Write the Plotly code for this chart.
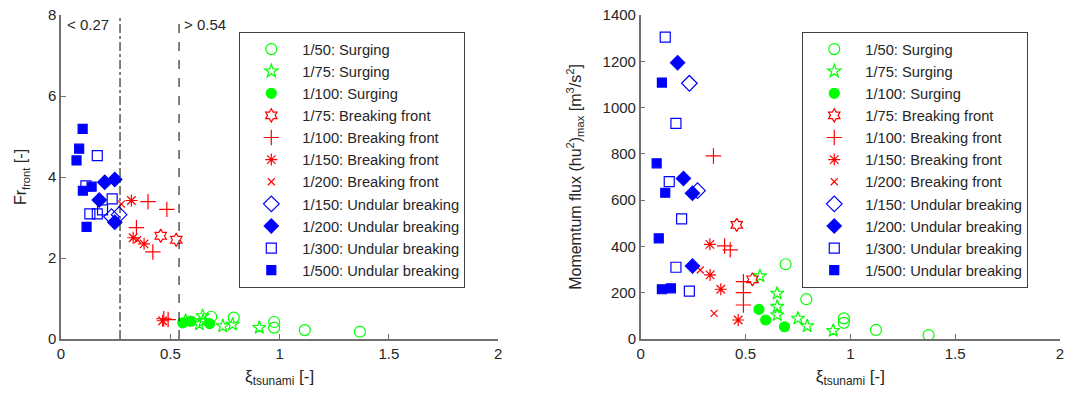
import plotly.graph_objects as go

# ---------------- data ----------------
# Left panel: Fr_front vs xi_tsunami
L_s50_x = [0.687, 0.79, 0.975, 0.975, 1.115, 1.367]
L_s50_y = [0.55, 0.53, 0.42, 0.28, 0.22, 0.18]
L_s75_x = [0.57, 0.648, 0.633, 0.65, 0.74, 0.785, 0.907]
L_s75_y = [0.45, 0.57, 0.37, 0.45, 0.32, 0.36, 0.28]
L_s100_x = [0.557, 0.595, 0.68]
L_s100_y = [0.40, 0.44, 0.38]
L_b75_x = [0.456, 0.527]
L_b75_y = [2.55, 2.45]
L_b100_x = [0.345, 0.398, 0.42, 0.484, 0.47, 0.49]
L_b100_y = [2.75, 3.39, 2.15, 3.2, 0.5, 0.48]
L_b150_x = [0.322, 0.33, 0.38, 0.465]
L_b150_y = [3.42, 2.5, 2.35, 0.45]
L_b200_x = [0.276, 0.35]
L_b200_y = [3.33, 2.45]
L_u150_x = [0.231, 0.266]
L_u150_y = [3.02, 3.07]
L_u200_x = [0.246, 0.20, 0.175, 0.246]
L_u200_y = [3.94, 3.87, 3.43, 2.88]
L_u300_x = [0.166, 0.114, 0.234, 0.132, 0.166, 0.19]
L_u300_y = [4.53, 3.78, 3.46, 3.09, 3.09, 3.19]
L_u500_x = [0.099, 0.083, 0.071, 0.10, 0.14, 0.117]
L_u500_y = [5.19, 4.70, 4.41, 3.66, 3.76, 2.77]

# Right panel: momentum flux vs xi_tsunami
R_s50_x = [0.691, 0.79, 0.969, 0.969, 1.122, 1.373]
R_s50_y = [323, 172, 89, 70, 39, 17]
R_s75_x = [0.569, 0.651, 0.651, 0.651, 0.75, 0.794, 0.918]
R_s75_y = [272, 197, 140, 104, 89, 56, 36]
R_s100_x = [0.564, 0.596, 0.686]
R_s100_y = [128, 82, 53]
R_b75_x = [0.458, 0.533]
R_b75_y = [493, 258]
R_b100_x = [0.347, 0.40, 0.427, 0.49, 0.49, 0.49]
R_b100_y = [791, 402, 385, 248, 200, 147]
R_b150_x = [0.33, 0.331, 0.382, 0.465]
R_b150_y = [409, 277, 215, 82]
R_b200_x = [0.284, 0.35]
R_b200_y = [298, 111]
R_u150_x = [0.232, 0.271]
R_u150_y = [1105, 641]
R_u200_x = [0.176, 0.204, 0.247, 0.247]
R_u200_y = [1194, 694, 630, 315]
R_u300_x = [0.117, 0.168, 0.136, 0.195, 0.168, 0.232]
R_u300_y = [1304, 932, 680, 519, 310, 207]
R_u500_x = [0.101, 0.076, 0.117, 0.086, 0.101, 0.144]
R_u500_y = [1108, 759, 632, 435, 215, 219]

names = ["1/50: Surging", "1/75: Surging", "1/100: Surging",
         "1/75: Breaking front", "1/100: Breaking front", "1/150: Breaking front",
         "1/200: Breaking front", "1/150: Undular breaking", "1/200: Undular breaking",
         "1/300: Undular breaking", "1/500: Undular breaking"]

left_sets = [(L_s50_x, L_s50_y), (L_s75_x, L_s75_y), (L_s100_x, L_s100_y),
             (L_b75_x, L_b75_y), (L_b100_x, L_b100_y), (L_b150_x, L_b150_y),
             (L_b200_x, L_b200_y), (L_u150_x, L_u150_y), (L_u200_x, L_u200_y),
             (L_u300_x, L_u300_y), (L_u500_x, L_u500_y)]
right_sets = [(R_s50_x, R_s50_y), (R_s75_x, R_s75_y), (R_s100_x, R_s100_y),
              (R_b75_x, R_b75_y), (R_b100_x, R_b100_y), (R_b150_x, R_b150_y),
              (R_b200_x, R_b200_y), (R_u150_x, R_u150_y), (R_u200_x, R_u200_y),
              (R_u300_x, R_u300_y), (R_u500_x, R_u500_y)]

G, R, B = "#00FF00", "#FF0000", "#0000FF"
styles = [
    ("circle-open", G, 11), ("star-open", G, 10), ("circle", G, 10),
    ("hexagram-open", R, 10), ("cross-thin-open", R, 11), ("asterisk-open", R, 10),
    ("x-thin-open", R, 7), ("diamond-open", B, 12), ("diamond", B, 11),
    ("square-open", B, 10), ("square", B, 9),
]

fig = go.Figure()
for i, (nm, (xs, ys), st) in enumerate(zip(names, left_sets, styles)):
    sym, col, sz = st
    fig.add_trace(go.Scatter(x=xs, y=ys, mode="markers", name=nm,
                             marker=dict(symbol=sym, color=col, size=sz,
                                         line=dict(color=col, width=1.2)),
                             xaxis="x", yaxis="y", legend="legend",
                             legendgroup="L%d" % i))
for i, (nm, (xs, ys), st) in enumerate(zip(names, right_sets, styles)):
    sym, col, sz = st
    fig.add_trace(go.Scatter(x=xs, y=ys, mode="markers", name=nm,
                             marker=dict(symbol=sym, color=col, size=sz,
                                         line=dict(color=col, width=1.2)),
                             xaxis="x2", yaxis="y2", legend="legend2",
                             legendgroup="R%d" % i))

FONT = "Liberation Sans, Arial, sans-serif"
TXT = "#262626"
AX = "#707070"

axis_common = dict(showgrid=False, zeroline=False, showline=True, linecolor=AX,
                   linewidth=1.5, ticks="inside", ticklen=5, tickcolor=AX,
                   tickfont=dict(family=FONT, size=15, color=TXT), mirror=False)

legend_common = dict(xanchor="left", yanchor="top", bordercolor="#404040",
                     borderwidth=1, bgcolor="white", itemwidth=52,
                     font=dict(family=FONT, size=14.7, color=TXT), tracegroupgap=0)

fig.update_layout(
    width=1068, height=403,
    margin=dict(l=61, r=4, t=15, b=64),
    plot_bgcolor="white", paper_bgcolor="white",
    font=dict(family=FONT, size=15, color=TXT),
    xaxis=dict(domain=[0, 0.4377], range=[0, 2], tickvals=[0, 0.5, 1, 1.5, 2],
               ticktext=["0", "0.5", "1", "1.5", "2"],
               title=dict(text="ξ<sub>tsunami</sub> [-]", standoff=9,
                          font=dict(size=17)), anchor="y", **axis_common),
    yaxis=dict(range=[0, 8], tickvals=[0, 2, 4, 6, 8],
               title=dict(text="Fr<sub>front</sub> [-]", standoff=17,
                          font=dict(size=16)), anchor="x", **axis_common),
    xaxis2=dict(domain=[0.5803, 1], range=[0, 2], tickvals=[0, 0.5, 1, 1.5, 2],
                ticktext=["0", "0.5", "1", "1.5", "2"],
                title=dict(text="ξ<sub>tsunami</sub> [-]", standoff=9,
                           font=dict(size=17)), anchor="y2", **axis_common),
    yaxis2=dict(range=[0, 1400], tickvals=list(range(0, 1401, 200)),
                title=dict(text="Momemtum flux (hu<sup>2</sup>)<sub>max</sub> [m<sup>3</sup>/s<sup>2</sup>]",
                           standoff=17, font=dict(size=16)), anchor="x2", **axis_common),
    legend=dict(x=0.1785, y=0.9475, **legend_common),
    legend2=dict(x=0.742, y=0.9475, **legend_common),
    showlegend=True,
)

fig.add_shape(type="line", xref="x", yref="y domain", x0=0.27, x1=0.27, y0=0, y1=1,
              line=dict(color="black", width=1, dash="dashdot"))
fig.add_shape(type="line", xref="x", yref="y domain", x0=0.54, x1=0.54, y0=0, y1=1,
              line=dict(color="black", width=1, dash="dash"))
fig.add_annotation(xref="x", yref="y domain", x=0.02, y=0.97, text="< 0.27",
                   showarrow=False, xanchor="left", yanchor="middle",
                   font=dict(family=FONT, size=15, color=TXT))
fig.add_annotation(xref="x", yref="y domain", x=0.555, y=0.97, text="> 0.54",
                   showarrow=False, xanchor="left", yanchor="middle",
                   font=dict(family=FONT, size=15, color=TXT))

fig.write_html("out.html")
